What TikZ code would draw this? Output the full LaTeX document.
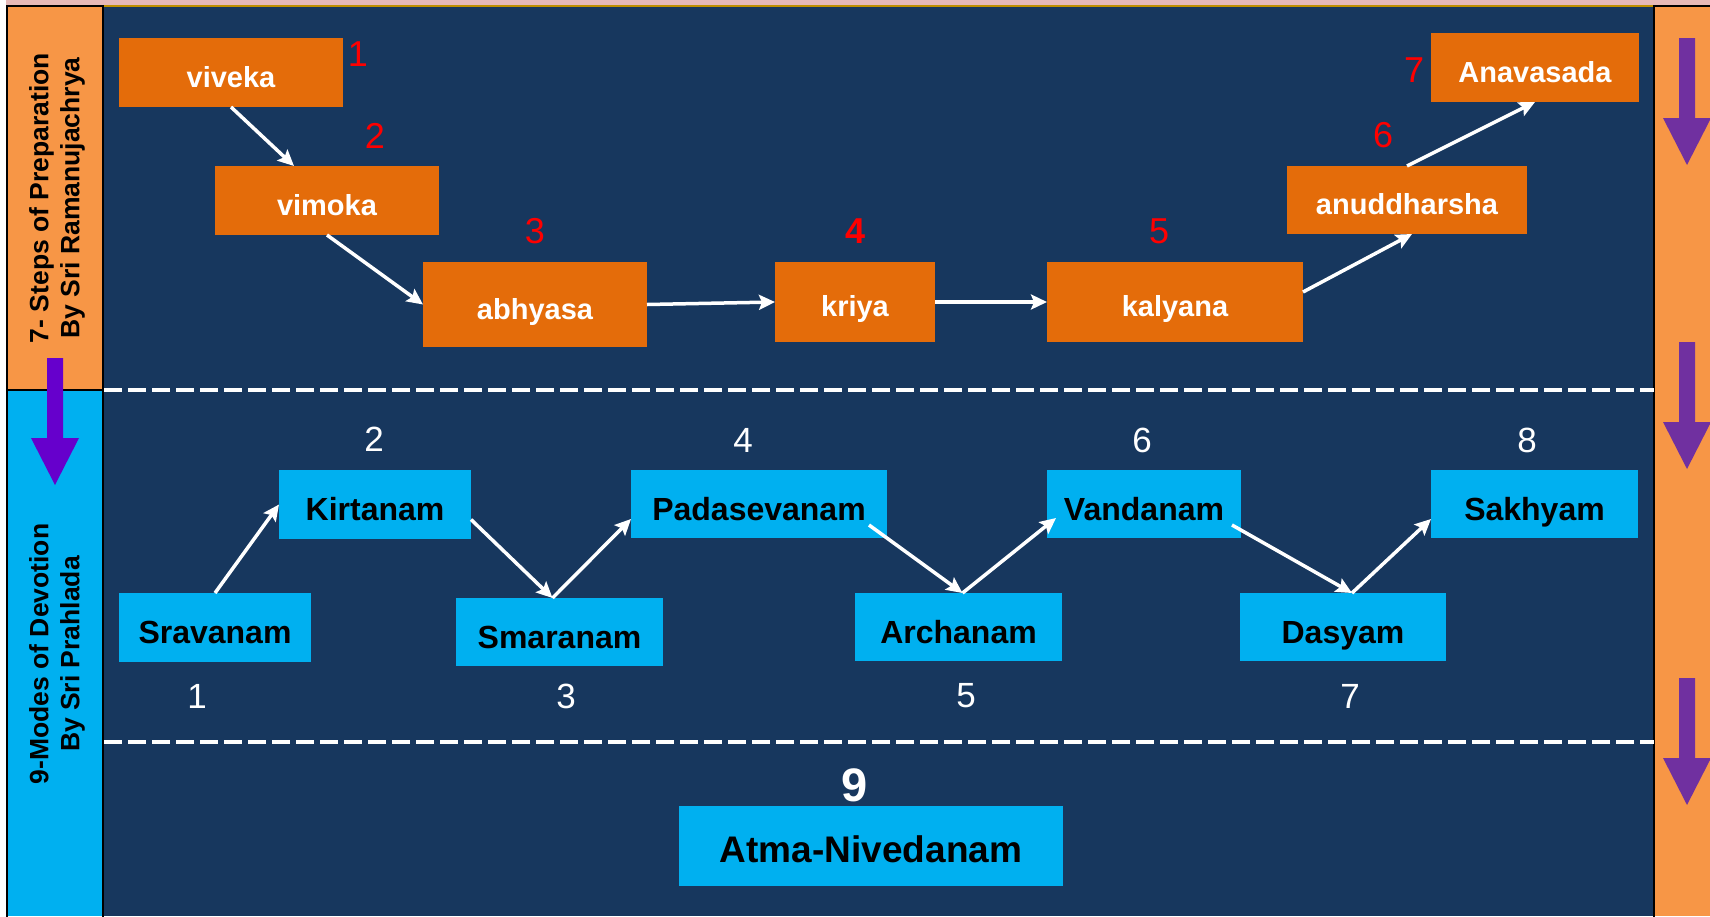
\documentclass[tikz,border=0pt]{standalone}
\usepackage{fontspec}
\setmainfont{Liberation Sans}
\usetikzlibrary{arrows.meta,calc}
\definecolor{navy}{HTML}{17375E}
\definecolor{orgbox}{HTML}{E46C0A}
\definecolor{orgcol}{HTML}{F79646}
\definecolor{cyanbox}{HTML}{00B0F0}
\definecolor{purpleA}{HTML}{6600CC}
\definecolor{purpleB}{HTML}{7030A0}
\definecolor{pinkband}{HTML}{E6B9B8}
\definecolor{goldline}{HTML}{BF8F00}
\definecolor{rednum}{HTML}{FF0000}
\tikzset{
  box/.style={inner sep=0pt, outer sep=0pt, text depth=0pt, align=center},
  obox/.style={box, fill=orgbox, text=white, text height=29pt, font=\fontsize{29}{34}\selectfont\bfseries},
  bbox/.style={box, fill=cyanbox, text=black, text height=32pt, font=\fontsize{32}{38}\selectfont\bfseries},
  rnum/.style={text=rednum, inner sep=0pt, font=\fontsize{36}{40}\selectfont},
  wnum/.style={text=white, inner sep=0pt, font=\fontsize{35}{40}\selectfont},
  conn/.style={draw=white, line width=3.5pt, -{Stealth[length=16pt,width=15pt,inset=3pt]}},
  sepline/.style={draw=white, line width=4.5pt, dash pattern=on 18pt off 6pt},
  sidetext/.style={rotate=90, align=center, text=black, inner sep=0pt, font=\fontsize{26.5}{31}\selectfont\bfseries},
}
\begin{document}
\begin{tikzpicture}[x=1pt,y=-1pt]
\useasboundingbox (0,0) rectangle (1710,916);
% backgrounds
\fill[white] (0,0) rectangle (1710,916);
\fill[navy] (104,7) rectangle (1654,916);
\fill[pinkband] (6,0) rectangle (1710,5);
\fill[goldline] (6,5) rectangle (1710,7);
\fill[orgcol] (7,6) rectangle (103,390);
\fill[cyanbox] (7,390) rectangle (103,916);
\fill[orgcol] (1654,6) rectangle (1710,916);
\draw[line width=2pt] (7,917) -- (7,6) -- (103,6) -- (103,917);
\draw[line width=2pt] (7,390) -- (103,390);
\draw[line width=2pt] (1654,917) -- (1654,6) -- (1711,6);
% separators
\draw[sepline] (104,390) -- (1654,390);
\draw[sepline] (104,742) -- (1654,742);
% side texts
\node[sidetext] (side1) at (57,198) {7- Steps of Preparation\\By Sri Ramanujachrya};
\node[sidetext] (side2) at (57,654) {9-Modes of Devotion\\By Sri Prahlada};
% purple block arrows
\fill[purpleA] (47,358) -- (63,358) -- (63,438) -- (79,438) -- (55,485) -- (31,438) -- (47,438) -- cycle;
\foreach \t in {38,342,678} {
  \fill[purpleB] (1679,\t) -- (1695,\t) -- (1695,\t+80) -- (1711,\t+80) -- (1687,\t+127) -- (1663,\t+80) -- (1679,\t+80) -- cycle;
}
% orange boxes
\node[obox, minimum width=224pt, minimum height=69pt] (viveka) at (231,72.5) {viveka};
\node[obox, minimum width=224pt, minimum height=69pt] (vimoka) at (327,200.5) {vimoka};
\node[obox, minimum width=224pt, minimum height=85pt] (abhyasa) at (535,304.5) {abhyasa};
\node[obox, minimum width=160pt, minimum height=80pt] (kriya) at (855,302) {kriya};
\node[obox, minimum width=256pt, minimum height=80pt] (kalyana) at (1175,302) {kalyana};
\node[obox, minimum width=240pt, minimum height=68pt] (anuddharsha) at (1407,200) {anuddharsha};
\node[obox, minimum width=208pt, minimum height=69pt] (Anavasada) at (1535,67.5) {Anavasada};
% red numbers
\node[rnum] (r1) at (358,54) {1};
\node[rnum] (r2) at (375,135.5) {2};
\node[rnum] (r3) at (535,231.5) {3};
\node[rnum, font=\fontsize{36}{40}\selectfont\bfseries] (r4) at (855,231) {4};
\node[rnum] (r5) at (1159,231) {5};
\node[rnum] (r6) at (1383,135.5) {6};
\node[rnum] (r7) at (1414,70) {7};
% orange connectors
\draw[conn] (viveka.south) -- ([xshift=-33pt]vimoka.north);
\draw[conn] (vimoka.south) -- (abhyasa.west);
\draw[conn] (abhyasa.east) -- (kriya.west);
\draw[conn] (kriya.east) -- (kalyana.west);
\draw[conn] ([yshift=10pt]kalyana.east) -- ([xshift=5pt]anuddharsha.south);
\draw[conn] (anuddharsha.north) -- (Anavasada.south);
% blue boxes
\node[bbox, minimum width=192pt, minimum height=69pt] (Sravanam) at (215,627.5) {Sravanam};
\node[bbox, minimum width=192pt, minimum height=69pt] (Kirtanam) at (375,504.5) {Kirtanam};
\node[bbox, minimum width=207pt, minimum height=68pt] (Smaranam) at (559.5,632) {Smaranam};
\node[bbox, minimum width=256pt, minimum height=68pt] (Padasevanam) at (759,504) {Padasevanam};
\node[bbox, minimum width=207pt, minimum height=68pt] (Archanam) at (958.5,627) {Archanam};
\node[bbox, minimum width=194pt, minimum height=68pt] (Vandanam) at (1144,504) {Vandanam};
\node[bbox, minimum width=206pt, minimum height=68pt] (Dasyam) at (1343,627) {Dasyam};
\node[bbox, minimum width=207pt, minimum height=68pt] (Sakhyam) at (1534.5,504) {Sakhyam};
\node[bbox, minimum width=384pt, minimum height=80pt, font=\fontsize{37}{42}\selectfont\bfseries] (Atma) at (871,846) {Atma-Nivedanam};
% white numbers
\node[wnum] (w1) at (197,696) {1};
\node[wnum] (w2) at (374,439.5) {2};
\node[wnum] (w3) at (566,696) {3};
\node[wnum] (w4) at (743,440) {4};
\node[wnum] (w5) at (966,696) {5};
\node[wnum] (w6) at (1142,440) {6};
\node[wnum] (w7) at (1350,696) {7};
\node[wnum] (w8) at (1527,440) {8};
\node[wnum, font=\fontsize{47}{50}\selectfont\bfseries] (w9) at (855,785) {9};
% blue connectors
\draw[conn] (Sravanam.north) -- (Kirtanam.west);
\draw[conn] ([yshift=-15pt]Kirtanam.east) -- ([xshift=-7pt]Smaranam.north);
\draw[conn] ([xshift=-7pt]Smaranam.north) -- ([yshift=-15pt]Padasevanam.west);
\draw[conn] ([xshift=-18pt,yshift=-21pt]Padasevanam.east) -- ([xshift=4pt]Archanam.north);
\draw[conn] ([xshift=4pt]Archanam.north) -- ([xshift=9pt,yshift=-14pt]Vandanam.west);
\draw[conn] ([xshift=-9pt,yshift=-21pt]Vandanam.east) -- ([xshift=9pt]Dasyam.north);
\draw[conn] ([xshift=9pt]Dasyam.north) -- ([yshift=-15pt]Sakhyam.west);
\end{tikzpicture}
\end{document}
